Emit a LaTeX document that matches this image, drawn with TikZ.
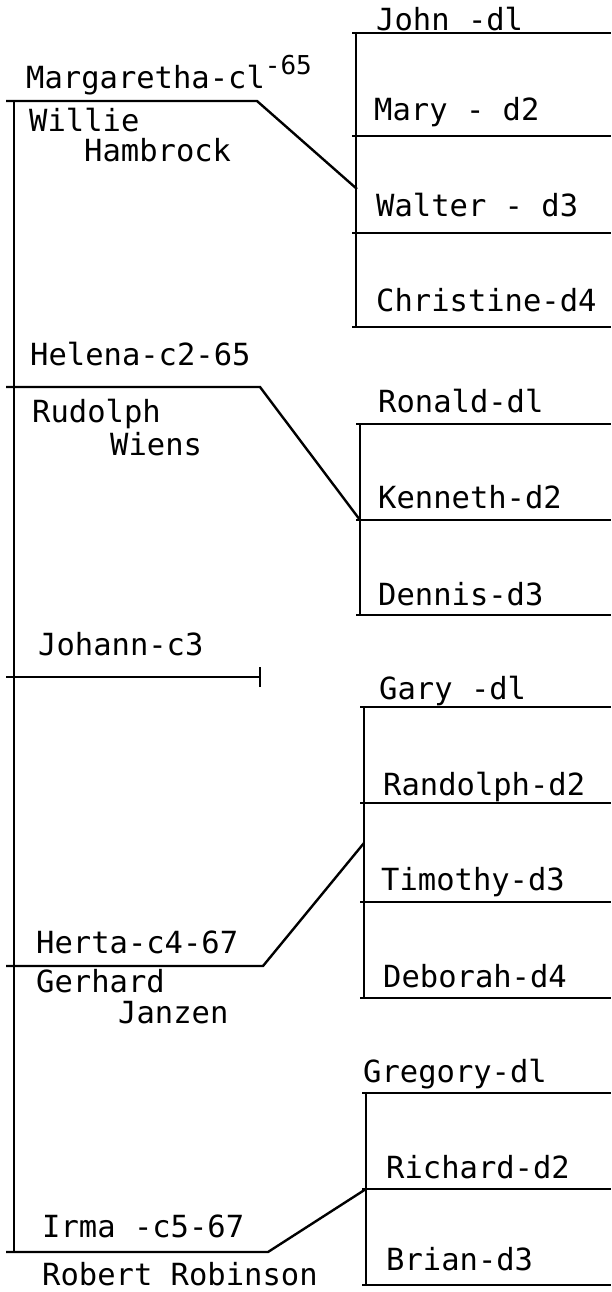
\documentclass[tikz,border=0pt]{standalone}
\usepackage{fontspec}
\setmonofont{DejaVu Sans Mono}
\usetikzlibrary{calc}
\tikzset{
	lbl/.style={anchor=base west,inner sep=0pt,font=\ttfamily\fontsize{30.5}{33}\selectfont},
	rule/.style={line width=2.4pt}
}
% one family of children: x of the bar, first and last line, list of lines
\def\kids(#1)(#2:#3)#4{
	\draw[rule] (#1,#2) -- (#1,#3);
	\foreach \y in {#4} \draw[rule] ({#1-4},\y) -- (611,\y);
}

\begin{document}
\begin{tikzpicture}[x=1pt,y=-1pt]
	\useasboundingbox (0,0) rectangle (611,1292);

	%TRUNK
	\coordinate (top) at (14,101);
	\coordinate (bot) at (14,1252);
	\draw[rule] (top) -- (bot);

	%COUPLES
	\coordinate (m0) at (6,101);   \coordinate (m1) at (257,101);  \coordinate (m2) at (357,189);
	\coordinate (h0) at (6,387);   \coordinate (h1) at (260,387);  \coordinate (h2) at (360,520);
	\coordinate (j0) at (6,677);   \coordinate (j1) at (260,677);
	\coordinate (t0) at (6,966);   \coordinate (t1) at (263,966);  \coordinate (t2) at (364,843);
	\coordinate (i0) at (6,1252);  \coordinate (i1) at (268,1252); \coordinate (i2) at (366,1189);
	\draw[rule] (m0) -- (m1) -- (m2);
	\draw[rule] (h0) -- (h1) -- (h2);
	\draw[rule] (j0) -- (j1);
	\draw[rule] ($(j1)+(0,-10)$) -- ($(j1)+(0,10)$);	%end stop
	\draw[rule] (t0) -- (t1) -- (t2);
	\draw[rule] (i0) -- (i1) -- (i2);

	%CHILDREN
	\kids(356)(33:327){33,136,233,327}
	\kids(360)(424:615){424,520,615}
	\kids(364)(707:998){707,803,902,998}
	\kids(366)(1093:1285){1093,1189,1285}

	%LABELS
	\node[lbl] (marg) at (26,89)   {Margaretha-cl\raisebox{14pt}{\fontsize{26}{26}\selectfont-65}};
	\node[lbl] (will) at (29,132)  {Willie};
	\node[lbl] (hamb) at (84,162)  {Hambrock};
	\node[lbl] (hele) at (30,365)  {Helena-c2-65};
	\node[lbl] (rudo) at (32,422)  {Rudolph};
	\node[lbl] (wien) at (110,455) {Wiens};
	\node[lbl] (joha) at (38,655)  {Johann-c3};
	\node[lbl] (hert) at (36,953)  {Herta-c4-67};
	\node[lbl] (gerh) at (36,992)  {Gerhard};
	\node[lbl] (janz) at (118,1023) {Janzen};
	\node[lbl] (irma) at (42,1237) {Irma -c5-67};
	\node[lbl] (robe) at (42,1285) {Robert Robinson};

	\node[lbl] (john) at (376,31)  {John -dl};
	\node[lbl] (mary) at (374,121) {Mary - d2};
	\node[lbl] (walt) at (376,216) {Walter - d3};
	\node[lbl] (chri) at (376,311) {Christine-d4};
	\node[lbl] (rona) at (378,412) {Ronald-dl};
	\node[lbl] (kenn) at (378,508) {Kenneth-d2};
	\node[lbl] (denn) at (378,605) {Dennis-d3};
	\node[lbl] (gary) at (379,699) {Gary -dl};
	\node[lbl] (rand) at (383,795) {Randolph-d2};
	\node[lbl] (timo) at (381,890) {Timothy-d3};
	\node[lbl] (debo) at (383,987) {Deborah-d4};
	\node[lbl] (greg) at (363,1082) {Gregory-dl};
	\node[lbl] (rich) at (386,1178) {Richard-d2};
	\node[lbl] (bria) at (386,1270) {Brian-d3};
\end{tikzpicture}
\end{document}
